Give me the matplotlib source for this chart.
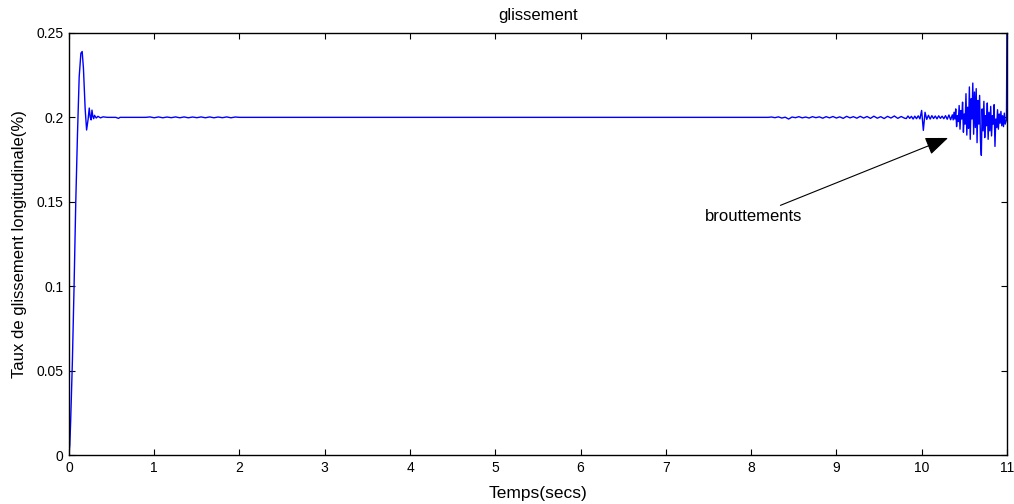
import numpy as np
import matplotlib
matplotlib.use('Agg')
import matplotlib.pyplot as plt

plt.rcParams['font.family'] = ['Liberation Sans', 'DejaVu Sans']

# start-up transient (explicit times)
t_start = [0.0, 0.01, 0.02, 0.04, 0.06, 0.08, 0.10, 0.12, 0.14, 0.155, 0.17, 0.19,
           0.207, 0.225, 0.238, 0.25, 0.26, 0.27, 0.28, 0.29, 0.30, 0.32, 0.34, 0.37,
           0.40, 0.45, 0.50, 0.55, 0.58, 0.60, 0.65, 0.70, 0.80, 0.90]
y_start = [0.0, 0.006, 0.02, 0.055, 0.10, 0.15, 0.19, 0.224, 0.238, 0.239, 0.229, 0.205,
           0.1925, 0.199, 0.2055, 0.2, 0.1985, 0.2043, 0.2005, 0.1992, 0.2012, 0.1996, 0.2006, 0.1997,
           0.2003, 0.2, 0.2, 0.2, 0.1994, 0.2, 0.2, 0.2, 0.2, 0.2]

# small ripple 0.95 -> 2.0 s
ripple_span = (0.95, 2.0)
y_ripple = [0.20025, 0.19975, 0.20025, 0.19975, 0.2002, 0.1998, 0.20025, 0.19975, 0.20025, 0.19975,
            0.2002, 0.1998, 0.20025, 0.19975, 0.20025, 0.19975, 0.2002, 0.1998, 0.20025, 0.19975,
            0.2002, 0.2]

# light noise 8.2 -> 9.8 s
noise_span = (8.2, 9.8)
y_noise = [0.2, 0.2002, 0.1998, 0.2003, 0.1996, 0.2001, 0.1990, 0.2002, 0.1998, 0.2004,
           0.1997, 0.2002, 0.1996, 0.2004, 0.1998, 0.2003, 0.1995, 0.2004, 0.1997, 0.2005,
           0.1996, 0.2003, 0.1994, 0.2006, 0.1997, 0.2004, 0.1995, 0.2006, 0.1996, 0.2005,
           0.1994, 0.2007, 0.1995, 0.2004, 0.1993, 0.2006, 0.1996, 0.2008, 0.1994, 0.2005,
           0.1995]

# noise with spike near 10 s, 9.82 -> 10.34 s
spike_span = (9.82, 10.34)
y_spike = [0.1993, 0.2008, 0.1994, 0.2006, 0.1990, 0.2007, 0.1992, 0.2009, 0.1991, 0.2041,
           0.1923, 0.2030, 0.1988, 0.2012, 0.1990, 0.2010, 0.1993, 0.2008, 0.1991, 0.2009,
           0.1994, 0.2007, 0.1992, 0.2010, 0.1989, 0.2014, 0.1986]

# "brouttements" 10.36 -> 10.98 s
chatter_span = (10.36, 10.98)
y_chatter = [0.2015, 0.1985, 0.2030, 0.1990, 0.2050, 0.1945, 0.2010, 0.1975, 0.2070, 0.1930,
             0.2040, 0.1990, 0.2090, 0.1912, 0.2020, 0.1960, 0.2140, 0.1895, 0.2060, 0.1935,
             0.2180, 0.1870, 0.2110, 0.1990, 0.2203, 0.1900, 0.2150, 0.1940, 0.2170, 0.1850,
             0.2100, 0.1960, 0.2130, 0.1860, 0.1775, 0.2050, 0.1920, 0.2095, 0.1880, 0.2010,
             0.1950, 0.2085, 0.1870, 0.2030, 0.1920, 0.2065, 0.1890, 0.2010, 0.1960, 0.2075,
             0.1828, 0.1990, 0.1940, 0.2045, 0.1930, 0.2020, 0.1965, 0.2035, 0.1950, 0.2010,
             0.1945, 0.2025, 0.1960]

t_end = [10.995, 11.0]
y_end = [0.1985, 0.25]

t = np.concatenate([t_start,
                    np.linspace(*ripple_span, len(y_ripple)),
                    np.linspace(*noise_span, len(y_noise)),
                    np.linspace(*spike_span, len(y_spike)),
                    np.linspace(*chatter_span, len(y_chatter)),
                    t_end])
y = np.concatenate([y_start, y_ripple, y_noise, y_spike, y_chatter, y_end])

xticks = list(range(0, 12))
yticks = [0, 0.05, 0.1, 0.15, 0.2, 0.25]
yticklabels = ['0', '0.05', '0.1', '0.15', '0.2', '0.25']

fig = plt.figure(figsize=(10.14, 5.04), dpi=100)
ax = fig.add_axes([0.068, 0.097, 0.925, 0.8377])
ax.plot(t, y, color='#0000ff', lw=1)

ax.set_xlim(0, 11)
ax.set_ylim(0, 0.25)
ax.set_xticks(xticks)
ax.set_yticks(yticks)
ax.set_yticklabels(yticklabels)
ax.tick_params(direction='in', top=True, right=True, length=4, labelsize=10, pad=4)
for s in ax.spines.values():
    s.set_linewidth(1)

ax.set_title('glissement', fontsize=12, pad=9)
ax.set_xlabel('Temps(secs)', fontsize=12.5, labelpad=8)
ax.set_ylabel('Taux de glissement longitudinale(%)', fontsize=12, labelpad=7)

ax.annotate('brouttements', xy=(10.31, 0.1878), xytext=(8.6, 0.1415),
            ha='right', va='center', fontsize=12,
            arrowprops=dict(arrowstyle='-|>,head_length=1.0,head_width=0.4',
                            color='black', lw=0.8, mutation_scale=14, shrinkA=1, shrinkB=0))

fig.savefig('out.png', dpi=100)
